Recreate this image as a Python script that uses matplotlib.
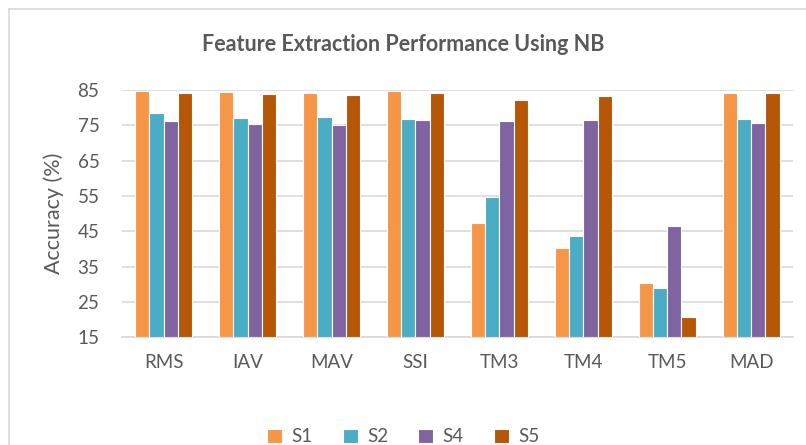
import numpy as np
import matplotlib
matplotlib.use("Agg")
import matplotlib.pyplot as plt
from matplotlib.lines import Line2D

features = ["RMS", "IAV", "MAV", "SSI", "TM3", "TM4", "TM5", "MAD"]
series = ["S1", "S2", "S4", "S5"]
s1 = [84.8, 84.4, 84.2, 84.8, 47.3, 40.2, 30.4, 84.1]
s2 = [78.4, 77.0, 77.2, 76.8, 54.7, 43.8, 28.9, 76.9]
s4 = [76.3, 75.4, 75.0, 76.5, 76.3, 76.4, 46.4, 75.7]
s5 = [84.2, 83.9, 83.6, 84.1, 82.1, 83.3, 20.7, 84.2]
colors = ["#F79646", "#4BACC6", "#8064A2", "#B65708"]

plt.rcParams.update({"font.family": ["Lato", "DejaVu Sans"]})
txt = "#595959"

fig = plt.figure(figsize=(8.06, 4.45), dpi=100)
ax = fig.add_axes([0.151, 0.242, 0.833, 0.556])

x = np.arange(len(features))
w = 0.17
for i, (name, vals) in enumerate(zip(series, [s1, s2, s4, s5])):
    ax.bar(x + (i - 1.5) * w, np.array(vals) - 15, w, bottom=15, color=colors[i],
           edgecolor="white", lw=0.8, label=name, zorder=3)

ax.set_xlim(-0.5, len(features) - 0.5)
ax.set_ylim(15, 85)
ax.set_yticks(range(15, 86, 10))
ax.grid(axis="y", color="#D9D9D9", lw=1.2, zorder=0)
for s in ["top", "right", "left"]:
    ax.spines[s].set_visible(False)
ax.spines["bottom"].set_color("#D9D9D9")
ax.spines["bottom"].set_linewidth(1.2)
ax.tick_params(length=0, colors=txt, labelsize=13.5)
ax.tick_params(axis="x", pad=12)
ax.tick_params(axis="y", pad=16)
ax.set_xticks(x)
ax.set_xticklabels(features)
ax.set_ylabel("Accuracy (%)", color=txt, fontsize=15.5, labelpad=10)

fig.text(0.5, 0.9, "Feature Extraction Performance Using NB", ha="center", va="center",
         fontsize=15.5, fontweight="bold", color=txt)
fig.legend(loc="center", bbox_to_anchor=(0.5, 0.018), ncol=4, frameon=False,
           fontsize=13.5, labelcolor=txt, handlelength=0.8, handleheight=0.8,
           columnspacing=1.6, handletextpad=0.5)

# chart frame (left and top edges visible)
fig.add_artist(Line2D([0.011, 0.011], [0, 0.98], color="#D9D9D9", lw=1.2))
fig.add_artist(Line2D([0.011, 1.0], [0.98, 0.98], color="#D9D9D9", lw=1.2))

fig.savefig("out.png", dpi=100)
